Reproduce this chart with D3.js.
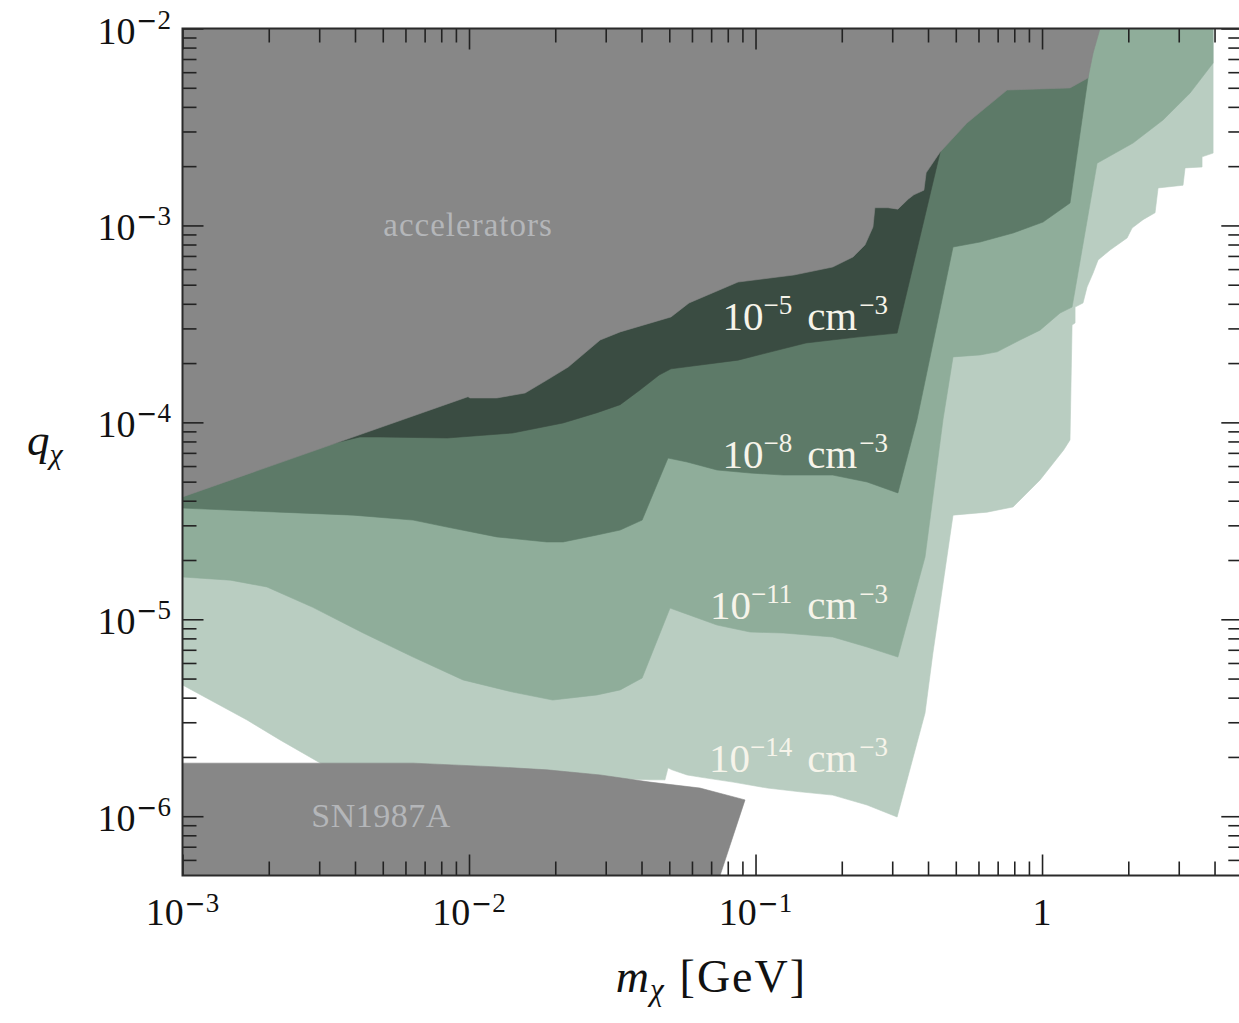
<!DOCTYPE html>
<html>
<head>
<meta charset="utf-8">
<script src="https://cdn.jsdelivr.net/npm/d3@7"></script>
<style>
  body { margin: 0; background: #ffffff; }
  svg text { font-family: "Liberation Serif", "Times New Roman", serif; }
</style>
</head>
<body>
<svg id="chart" width="1239" height="1023"></svg>
<script>
// ---------------- data (m_chi in GeV, q_chi) ----------------
const xMajorTicks = [0.001, 0.01, 0.1, 1];
const xTickLabels = [["10", "−3"], ["10", "−2"], ["10", "−1"], ["1", ""]];
const yMajorTicks = [1e-6, 1e-5, 1e-4, 1e-3, 1e-2];
const yTickLabels = [["10", "−6"], ["10", "−5"], ["10", "−4"], ["10", "−3"], ["10", "−2"]];

// excluded by accelerators
const accelerators = [
  [1e-3, 1e-2], [1e-3, 4.18e-5], [9.92e-3, 1.35e-4], [1.008e-2, 1.33e-4], [1.25e-2, 1.33e-4],
  [1.57e-2, 1.41e-4], [1.87e-2, 1.64e-4], [2.22e-2, 1.91e-4], [2.87e-2, 2.62e-4], [3.37e-2, 2.88e-4],
  [5.07e-2, 3.43e-4], [5.86e-2, 4.04e-4], [8.69e-2, 5.16e-4], [0.136, 5.60e-4], [0.186, 6.15e-4],
  [0.219, 6.92e-4], [0.241, 7.95e-4], [0.257, 9.82e-4], [0.261, 1.23e-3], [0.290, 1.23e-3],
  [0.314, 1.21e-3], [0.341, 1.36e-3], [0.357, 1.43e-3], [0.387, 1.51e-3], [0.394, 1.85e-3],
  [0.441, 2.36e-3], [0.547, 3.31e-3], [0.755, 4.87e-3], [1.252, 4.99e-3], [1.447, 5.61e-3],
  [1.507, 7.51e-3], [1.594, 1e-2]
];

// density 1e-5 cm^-3
const density5 = [
  [1e-3, 1e-2], [1e-3, 5.1e-5], [4.16e-3, 8.43e-5], [4.89e-3, 8.43e-5], [8.38e-3, 8.33e-5],
  [1.42e-2, 8.83e-5], [2.13e-2, 9.93e-5], [2.80e-2, 1.12e-4], [3.37e-2, 1.23e-4], [3.95e-2, 1.46e-4],
  [4.61e-2, 1.74e-4], [5.07e-2, 1.87e-4], [8.69e-2, 2.07e-4], [0.150, 2.53e-4], [0.226, 2.71e-4],
  [0.312, 2.84e-4], [0.441, 2.36e-3], [0.4065, 1e-2]
];

// density 1e-8 cm^-3
const density8 = [
  [1e-3, 1e-2], [1e-3, 3.67e-5], [2.19e-3, 3.50e-5], [3.94e-3, 3.38e-5], [6.38e-3, 3.19e-5],
  [8.38e-3, 2.94e-5], [1.25e-2, 2.62e-5], [1.87e-2, 2.47e-5], [2.13e-2, 2.47e-5], [2.80e-2, 2.68e-5],
  [3.37e-2, 2.84e-5], [4.02e-2, 3.19e-5], [4.95e-2, 6.59e-5], [5.77e-2, 6.29e-5], [7.34e-2, 5.73e-5],
  [9.57e-2, 5.53e-5], [0.125, 5.40e-5], [0.186, 5.40e-5], [0.245, 4.98e-5], [0.314, 4.38e-5],
  [0.366, 1.03e-4], [0.489, 7.77e-4], [0.608, 8.24e-4], [0.792, 9.15e-4], [1.008, 1.04e-3],
  [1.252, 1.30e-3], [1.447, 5.61e-3], [1.413, 1e-2]
];

// density 1e-11 cm^-3
const density11 = [
  [1e-3, 1e-2], [1e-3, 1.64e-5], [1.47e-3, 1.58e-5], [1.97e-3, 1.46e-5], [2.85e-3, 1.15e-5],
  [4.27e-3, 8.52e-6], [6.38e-3, 6.43e-6], [9.53e-3, 4.92e-6], [1.42e-2, 4.27e-6], [1.96e-2, 3.89e-6],
  [2.80e-2, 4.13e-6], [3.37e-2, 4.38e-6], [4.02e-2, 5.03e-6], [5.03e-2, 1.14e-5], [5.58e-2, 1.08e-5],
  [7.34e-2, 9.35e-6], [9.57e-2, 8.62e-6], [0.125, 8.52e-6], [0.186, 8.13e-6], [0.245, 7.23e-6],
  [0.314, 6.43e-6], [0.3905, 2.07e-5], [0.451, 1.03e-4], [0.489, 2.15e-4], [0.608, 2.20e-4],
  [0.697, 2.28e-4], [0.838, 2.62e-4], [0.984, 2.94e-4], [1.156, 3.59e-4], [1.273, 3.85e-4],
  [1.556, 2.07e-3], [2.078, 2.62e-3], [2.644, 3.43e-3], [3.286, 4.70e-3], [3.954, 6.68e-3],
  [3.954, 1e-2]
];

// density 1e-14 cm^-3
const density14 = [
  [1e-3, 1e-2], [1e-3, 4.64e-6], [1.68e-3, 3.08e-6], [2.19e-3, 2.44e-6], [3.07e-3, 1.84e-6],
  [6.38e-3, 1.72e-6], [1.87e-2, 1.62e-6], [2.87e-2, 1.56e-6], [4.28e-2, 1.53e-6], [4.83e-2, 1.53e-6],
  [4.95e-2, 1.76e-6], [5.11e-2, 1.72e-6], [5.77e-2, 1.62e-6], [6.40e-2, 1.58e-6], [8.35e-2, 1.49e-6],
  [0.110, 1.39e-6], [0.143, 1.33e-6], [0.186, 1.28e-6], [0.245, 1.14e-6], [0.312, 9.91e-7],
  [0.3905, 3.34e-6], [0.416, 6.74e-6], [0.489, 3.38e-5], [0.643, 3.50e-5], [0.792, 3.72e-5],
  [0.984, 5.10e-5], [1.19, 7.24e-5], [1.252, 8.14e-5], [1.273, 3.12e-4], [1.304, 3.20e-4],
  [1.304, 3.85e-4], [1.390, 4.04e-4], [1.436, 4.87e-4], [1.507, 5.73e-4], [1.569, 6.68e-4],
  [1.728, 7.50e-4], [1.981, 8.64e-4], [2.062, 9.70e-4], [2.252, 1.07e-3], [2.480, 1.16e-3],
  [2.541, 1.55e-3], [3.105, 1.60e-3], [3.156, 1.96e-3], [3.618, 1.98e-3], [3.618, 2.23e-3],
  [3.954, 2.33e-3], [3.954, 1e-2]
];

// excluded by SN1987A
const sn1987a = [
  [1e-3, 5e-7], [1e-3, 1.86e-6], [2.57e-3, 1.86e-6], [6.38e-3, 1.86e-6], [1.25e-2, 1.78e-6],
  [1.87e-2, 1.72e-6], [2.87e-2, 1.62e-6], [4.28e-2, 1.49e-6], [6.40e-2, 1.39e-6], [9.19e-2, 1.21e-6],
  [7.52e-2, 5e-7]
];

const densityLabels = [
  { exp: "−5",  m: 0.290, q: 2.94e-4 },
  { exp: "−8",  m: 0.290, q: 5.87e-5 },
  { exp: "−11", m: 0.290, q: 1.0e-5 },
  { exp: "−14", m: 0.290, q: 1.68e-6 }
];
const regionLabels = [
  { text: "accelerators", m: 9.92e-3, q: 8.84e-4 },
  { text: "SN1987A",      m: 4.93e-3, q: 8.82e-7 }
];

// ---------------- drawing ----------------
const svg = d3.select("#chart");
const x = d3.scaleLog().domain([1e-3, 5]).range([182.5, 1242.3]);
const y = d3.scaleLog().domain([5e-7, 1e-2]).range([875.5, 28.5]);

svg.append("defs").append("clipPath").attr("id", "plotclip")
  .append("rect")
  .attr("x", x.range()[0]).attr("y", y.range()[1])
  .attr("width", x.range()[1] - x.range()[0])
  .attr("height", y.range()[0] - y.range()[1]);

const line = d3.line().x(d => x(d[0])).y(d => y(d[1]));
const plot = svg.append("g").attr("clip-path", "url(#plotclip)");

const layers = [
  { data: density14, fill: "#b9cdc1" },
  { data: density11, fill: "#8fad9a" },
  { data: density8,  fill: "#5d7a68" },
  { data: density5,  fill: "#3a4c42" },
  { data: accelerators, fill: "#878787" },
  { data: sn1987a, fill: "#878787" }
];
plot.selectAll("path.region").data(layers).join("path")
  .attr("class", "region")
  .attr("d", d => line(d.data) + "Z")
  .attr("fill", d => d.fill)
  .attr("stroke", d => d.fill)
  .attr("stroke-width", 0.6);

// region labels
regionLabels.forEach(l => {
  plot.append("text")
    .attr("x", x(l.m)).attr("y", y(l.q))
    .attr("text-anchor", "middle")
    .attr("font-size", l.text === "SN1987A" ? 34 : 33)
    .attr("letter-spacing", l.text === "SN1987A" ? 0.5 : 1)
    .attr("fill", "#b4b6b9")
    .text(l.text);
});

// density labels
densityLabels.forEach(l => {
  const t = plot.append("text")
    .attr("x", x(l.m)).attr("y", y(l.q))
    .attr("text-anchor", "end")
    .attr("fill", "#f6f4ea")
    .attr("font-size", 41);
  t.append("tspan").text("10");
  t.append("tspan").attr("font-size", 27).attr("dy", -16).text(l.exp);
  t.append("tspan").attr("dy", 16).attr("dx", 15).text("cm");
  t.append("tspan").attr("font-size", 27).attr("dy", -16).attr("dx", 2).text("−3");
});

// ticks
function addTicks(gen, transform, vals, size) {
  svg.append("g").attr("transform", transform)
    .call(gen.tickValues(vals).tickSize(size).tickFormat(""))
    .call(g => g.select(".domain").remove())
    .selectAll("line").attr("stroke", "#222").attr("stroke-width", 1.6);
}
const isMajor = v => Math.abs(Math.log10(v) - Math.round(Math.log10(v))) < 1e-9;
const xAll = x.ticks().filter(v => v < 4.99);
const yAll = y.ticks();
const xMinor = xAll.filter(v => !isMajor(v));
const yMinor = yAll.filter(v => !isMajor(v) && v > 5.01e-7);

const [x0, x1] = x.range();
const [y0, y1] = y.range();
addTicks(d3.axisBottom(x), `translate(0,${y0})`, xMajorTicks, -21);
addTicks(d3.axisBottom(x), `translate(0,${y0})`, xMinor, -14);
addTicks(d3.axisTop(x), `translate(0,${y1})`, xMajorTicks, -21);
addTicks(d3.axisTop(x), `translate(0,${y1})`, xMinor, -14);
addTicks(d3.axisLeft(y), `translate(${x0},0)`, yMajorTicks, -21);
addTicks(d3.axisLeft(y), `translate(${x0},0)`, yMinor, -14);
addTicks(d3.axisRight(y), `translate(${x1},0)`, yMajorTicks, -21);
addTicks(d3.axisRight(y), `translate(${x1},0)`, yMinor, -14);

// frame
svg.append("rect")
  .attr("x", x0).attr("y", y1).attr("width", x1 - x0).attr("height", y0 - y1)
  .attr("fill", "none").attr("stroke", "#2a2a2a").attr("stroke-width", 2);

// tick labels (superscript minus in a wider glyph, like the TeX minus)
function addSup(t, s, dy) {
  if (!s) return;
  t.append("tspan").attr("font-size", 25).attr("dy", dy).attr("dx", 1)
    .attr("style", "font-family:'DejaVu Sans',sans-serif").text(s.slice(0, 1));
  t.append("tspan").attr("font-size", 27).text(s.slice(1));
}
xMajorTicks.forEach((v, i) => {
  const t = svg.append("text")
    .attr("x", x(v)).attr("y", 925)
    .attr("text-anchor", "middle").attr("font-size", 38).attr("fill", "#111");
  t.append("tspan").text(xTickLabels[i][0]);
  addSup(t, xTickLabels[i][1], -13);
});
yMajorTicks.forEach((v, i) => {
  const t = svg.append("text")
    .attr("x", 171).attr("y", y(v) + 15)
    .attr("text-anchor", "end").attr("font-size", 38).attr("fill", "#111");
  t.append("tspan").text(yTickLabels[i][0]);
  addSup(t, yTickLabels[i][1], -15);
});

// axis titles
const xt = svg.append("text").attr("x", (x0 + x1) / 2 - 1).attr("y", 992)
  .attr("text-anchor", "middle").attr("font-size", 46).attr("fill", "#111");
xt.append("tspan").attr("font-style", "italic").attr("letter-spacing", 1).text("m");
xt.append("tspan").attr("font-style", "italic").attr("font-size", 31).attr("dy", 8).text("χ");
xt.append("tspan").attr("dy", -8).attr("dx", 16).attr("letter-spacing", 2).text("[GeV]");

const yt = svg.append("text").attr("x", 27).attr("y", 455)
  .attr("font-size", 45).attr("fill", "#111");
yt.append("tspan").attr("font-style", "italic").text("q");
yt.append("tspan").attr("font-style", "italic").attr("font-size", 30).attr("dy", 9).text("χ");
</script>
</body>
</html>
